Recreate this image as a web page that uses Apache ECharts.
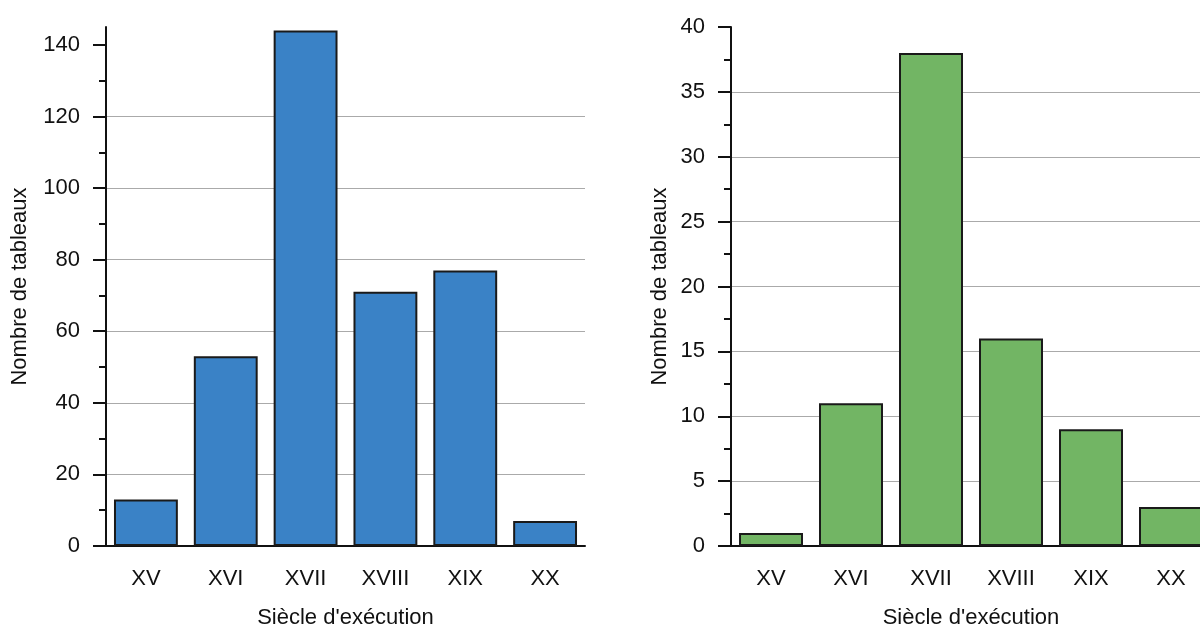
<!DOCTYPE html>
<html>
<head>
<meta charset="utf-8">
<style>
  html, body { margin: 0; padding: 0; background: #ffffff; }
  #chart { width: 1200px; height: 628px; }
</style>
<script src="https://cdn.jsdelivr.net/npm/echarts@6/dist/echarts.min.js"></script>
</head>
<body>
<div id="chart"></div>
<script>
// Centuries on the horizontal axis
const centuries = ['XV', 'XVI', 'XVII', 'XVIII', 'XIX', 'XX'];

// Number of paintings per century (left panel, all paintings)
const countsAll = [13, 53, 144, 71, 77, 7];
// Number of paintings per century (right panel)
const countsSubset = [1, 11, 38, 16, 9, 3];

// Tick values for each value axis
const leftTicks = [0, 20, 40, 60, 80, 100, 120, 140];
const leftMinorTicks = [10, 30, 50, 70, 90, 110, 130];
const rightTicks = [0, 5, 10, 15, 20, 25, 30, 35, 40];
const rightMinorTicks = [2.5, 7.5, 12.5, 17.5, 22.5, 27.5, 32.5, 37.5];

const yTitle = 'Nombre de tableaux';
const xTitle = "Siècle d'exécution";

const FONT = 'Liberation Sans, Arial, sans-serif';
const INK = '#111111';

function categoryAxes(gridIndex) {
  return [
    {
      type: 'category', gridIndex, position: 'bottom', data: centuries,
      name: xTitle, nameLocation: 'middle', nameGap: 61,
      nameTextStyle: { fontFamily: FONT, fontSize: 22, color: INK },
      axisLine: { lineStyle: { color: INK, width: 2 } },
      axisTick: { alignWithLabel: true, length: 13, lineStyle: { color: INK, width: 2 } },
      axisLabel: { margin: 22, fontFamily: FONT, fontSize: 22, color: INK },
      splitLine: { show: false }
    },
    {
      // boundary ticks between categories
      type: 'category', gridIndex, position: 'bottom', data: centuries,
      axisLine: { show: false },
      axisTick: { length: 6, lineStyle: { color: INK, width: 2 } },
      axisLabel: { show: false },
      splitLine: { show: false }
    }
  ];
}

function valueAxes(gridIndex, max, ticks, minorTicks, nameGap) {
  return [
    {
      type: 'value', gridIndex, position: 'left', min: 0, max,
      name: yTitle, nameLocation: 'middle', nameGap,
      nameTextStyle: { fontFamily: FONT, fontSize: 22, color: INK },
      axisLine: { show: true, lineStyle: { color: INK, width: 2 } },
      axisTick: { show: true, length: 13, customValues: ticks, lineStyle: { color: INK, width: 2 } },
      axisLabel: { margin: 26, customValues: ticks, fontFamily: FONT, fontSize: 22, color: INK },
      splitLine: { show: true, showMaxLine: false, lineStyle: { color: '#aaaaaa', width: 1.2 } }
    },
    {
      // minor ticks
      type: 'value', gridIndex, position: 'left', min: 0, max,
      axisLine: { show: false },
      axisTick: { show: true, length: 7, customValues: minorTicks, lineStyle: { color: INK, width: 2 } },
      axisLabel: { show: false },
      splitLine: { show: false }
    }
  ];
}

const barStyle = (color) => ({ color, borderColor: '#1a1a1a', borderWidth: 2 });

const chart = echarts.init(document.getElementById('chart'), null, { renderer: 'canvas', width: 1200, height: 628 });
chart.setOption({
  animation: false,
  backgroundColor: '#ffffff',
  grid: [
    { left: 106, width: 479, top: 27, height: 519, containLabel: false, outerBoundsMode: 'none' },
    { left: 731, width: 480, top: 27, height: 519, containLabel: false, outerBoundsMode: 'none' }
  ],
  xAxis: [...categoryAxes(0), ...categoryAxes(1)],
  yAxis: [
    ...valueAxes(0, 145, leftTicks, leftMinorTicks, 75),
    ...valueAxes(1, 40, rightTicks, rightMinorTicks, 60)
  ],
  series: [
    {
      type: 'bar', xAxisIndex: 0, yAxisIndex: 0, data: countsAll,
      barCategoryGap: '20%', itemStyle: barStyle('#3a82c6'), z: 3
    },
    {
      type: 'bar', xAxisIndex: 2, yAxisIndex: 2, data: countsSubset,
      barCategoryGap: '20%', itemStyle: barStyle('#72b564'), z: 3
    }
  ]
});
</script>
</body>
</html>
